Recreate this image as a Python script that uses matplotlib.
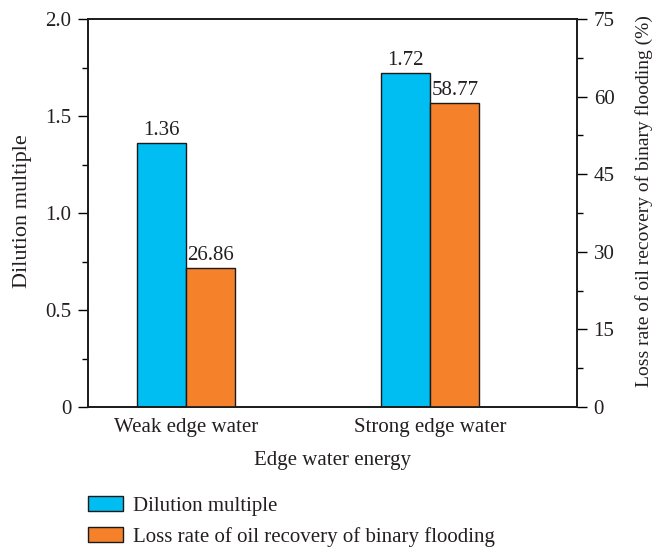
import matplotlib
matplotlib.use("Agg")
import matplotlib.pyplot as plt
from matplotlib.ticker import MultipleLocator
from matplotlib.patches import Patch
import numpy as np

categories = ["Weak edge water", "Strong edge water"]
dilution = [1.36, 1.72]
loss_rate = [26.86, 58.77]
dil_labels = ["1.36", "1.72"]
loss_labels = ["26.86", "58.77"]

plt.rcParams['font.family'] = ['Liberation Serif', 'DejaVu Serif']
blue = '#00BEF2'
orange = '#F5812B'
tc = '#231f20'
fs = 15

fig = plt.figure(figsize=(6.67, 5.5), dpi=100)
ax = fig.add_axes([88/667, 143/550, 489/667, 388/550])
ax2 = ax.twinx()

x = np.arange(len(categories))
w = 0.2
ax.bar(x - w/2, dilution, w, color=blue, edgecolor='#1a1a1a', linewidth=1.0)
ax2.bar(x + w/2, loss_rate, w, color=orange, edgecolor='#1a1a1a', linewidth=1.0)

for xi, v, t in zip(x, dilution, dil_labels):
    ax.text(xi - w/2, v + 0.015, t, ha='center', va='bottom', fontsize=fs, color=tc)
for xi, v, t in zip(x, loss_rate, loss_labels):
    ax2.text(xi + w/2, v + 0.5, t, ha='center', va='bottom', fontsize=fs, color=tc)

ax.set_xlim(-0.4, 1.6)
ax.set_ylim(0, 2.0)
ax2.set_ylim(0, 75)
ax.set_xticks(x)
ax.set_xticklabels(categories, fontsize=fs, color=tc)
ax.tick_params(axis='x', length=0, pad=8)
ax.yaxis.set_minor_locator(MultipleLocator(0.25))
ax.set_yticks([0, 0.5, 1.0, 1.5, 2.0])
ax.set_yticklabels(["0", "0.5", "1.0", "1.5", "2.0"], fontsize=fs, color=tc)
ax2.yaxis.set_major_locator(MultipleLocator(15))
ax2.yaxis.set_minor_locator(MultipleLocator(7.5))
ax2.tick_params(axis='y', labelsize=fs, labelcolor=tc)
for a in (ax, ax2):
    a.tick_params(axis='y', which='major', direction='out', length=7, width=1.0, pad=5)
    a.tick_params(axis='y', which='minor', direction='out', length=4, width=1.0)
    for s in a.spines.values():
        s.set_linewidth(1.2)
        s.set_color('#1a1a1a')

ax.set_xlabel("Edge water energy", fontsize=fs, color=tc, labelpad=10)
ax.set_ylabel("Dilution multiple", fontsize=16, color=tc)
ax.yaxis.set_label_coords(-0.1145, 0.505)
ax2.set_ylabel("Loss rate of oil recovery of binary flooding (%)", fontsize=14, color=tc)
ax2.yaxis.set_label_coords(1.1186, 0.531)

handles = [Patch(facecolor=blue, edgecolor='#1a1a1a', label='Dilution multiple'),
           Patch(facecolor=orange, edgecolor='#1a1a1a', label='Loss rate of oil recovery of binary flooding')]
leg = fig.legend(handles=handles, loc='upper left', bbox_to_anchor=(88/667, 1 - 496/550),
                 frameon=False, fontsize=fs, handlelength=1.68, handleheight=0.72,
                 handletextpad=0.48, labelspacing=0.54, borderaxespad=0, borderpad=0)
for t in leg.get_texts():
    t.set_color(tc)

fig.savefig("out.png", dpi=100)
